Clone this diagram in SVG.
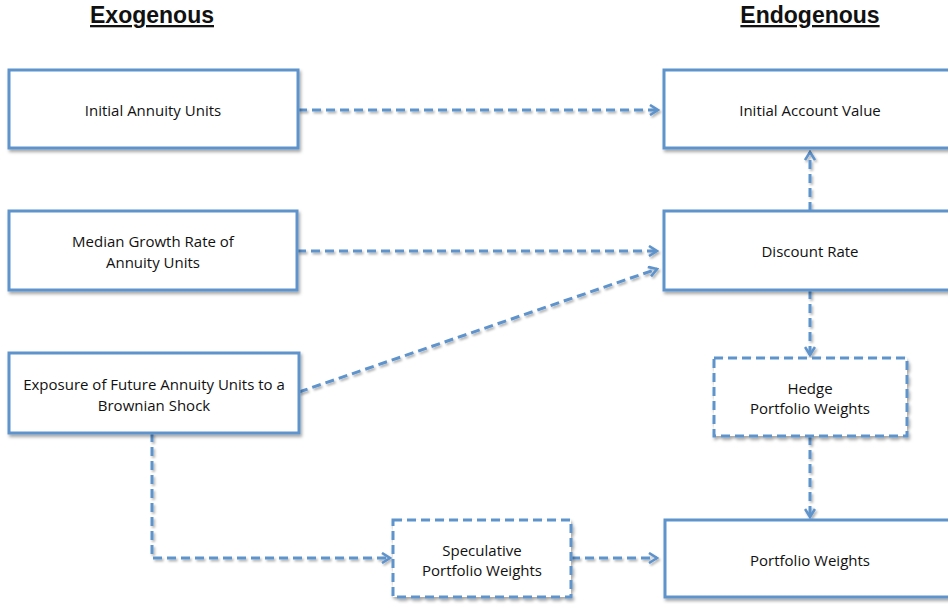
<svg xmlns="http://www.w3.org/2000/svg" width="948" height="604" viewBox="0 0 948 604">
<defs>
<filter id="sh" x="-10%" y="-10%" width="130%" height="140%">
<feDropShadow dx="1.5" dy="2.5" stdDeviation="1.5" flood-color="#000" flood-opacity="0.35"/>
</filter>
<filter id="shc" filterUnits="userSpaceOnUse" x="0" y="0" width="948" height="604">
<feDropShadow dx="1.5" dy="2" stdDeviation="1.2" flood-color="#000" flood-opacity="0.3"/>
</filter>
<marker id="arr" viewBox="0 0 12 12" refX="10" refY="6" markerWidth="12" markerHeight="12" markerUnits="userSpaceOnUse" orient="auto">
<polyline points="2,1 10,6 2,11" fill="none" stroke="#5f93cc" stroke-width="2.6" stroke-linejoin="miter"/>
</marker>
</defs>
<style>
.box{fill:#fff;stroke:#5f93cc;stroke-width:3;filter:url(#sh)}
.dbox{fill:#fff;stroke:#5f93cc;stroke-width:3;stroke-dasharray:9 5;filter:url(#sh)}
.lbl{font-family:"Open Sans","Liberation Sans",sans-serif;font-size:15px;fill:#111;text-anchor:middle}
.ttl{font-family:"Liberation Sans",Arial,sans-serif;font-size:23px;font-weight:bold;fill:#111;text-anchor:middle;text-decoration:underline}
.con{fill:none;stroke:#5f93cc;stroke-width:3;stroke-dasharray:9 5;marker-end:url(#arr)}
</style>
<rect width="948" height="604" fill="#fff"/>
<text class="ttl" x="152" y="23">Exogenous</text>
<text class="ttl" x="810" y="23">Endogenous</text>
<g id="connectors" filter="url(#shc)">
<path class="con" d="M298,110 L658,110"/>
<path class="con" d="M297,251 L657,251"/>
<path class="con" d="M299,392 L657,269"/>
<path class="con" d="M810,211 L810,152"/>
<path class="con" d="M810,290 L810,355"/>
<path class="con" d="M810,436 L810,517"/>
<path class="con" d="M152,433 L152,558 L390,558"/>
<path class="con" d="M571,558 L657,558"/>
</g>
<g id="n-initial-annuity-units">
<rect class="box" x="9" y="70" width="289" height="78"/>
<text class="lbl" x="153" y="116">Initial Annuity Units</text>
</g>
<g id="n-median-growth">
<rect class="box" x="9" y="211" width="288" height="79"/>
<text class="lbl" x="153" y="247">Median Growth Rate of</text>
<text class="lbl" x="153" y="268">Annuity Units</text>
</g>
<g id="n-exposure">
<rect class="box" x="9" y="353" width="290" height="80"/>
<text class="lbl" x="154" y="390">Exposure of Future Annuity Units to a</text>
<text class="lbl" x="154" y="411">Brownian Shock</text>
</g>
<g id="n-initial-account-value">
<rect class="box" x="664" y="70" width="290" height="78"/>
<text class="lbl" x="810" y="116">Initial Account Value</text>
</g>
<g id="n-discount-rate">
<rect class="box" x="664" y="211" width="290" height="79"/>
<text class="lbl" x="810" y="257">Discount Rate</text>
</g>
<g id="n-hedge">
<rect class="dbox" x="714" y="358" width="193" height="78"/>
<text class="lbl" x="810" y="394">Hedge</text>
<text class="lbl" x="810" y="414">Portfolio Weights</text>
</g>
<g id="n-speculative">
<rect class="dbox" x="393" y="520" width="178" height="77"/>
<text class="lbl" x="482" y="556">Speculative</text>
<text class="lbl" x="482" y="576">Portfolio Weights</text>
</g>
<g id="n-portfolio-weights">
<rect class="box" x="665" y="520" width="290" height="77"/>
<text class="lbl" x="810" y="566">Portfolio Weights</text>
</g>
</svg>
